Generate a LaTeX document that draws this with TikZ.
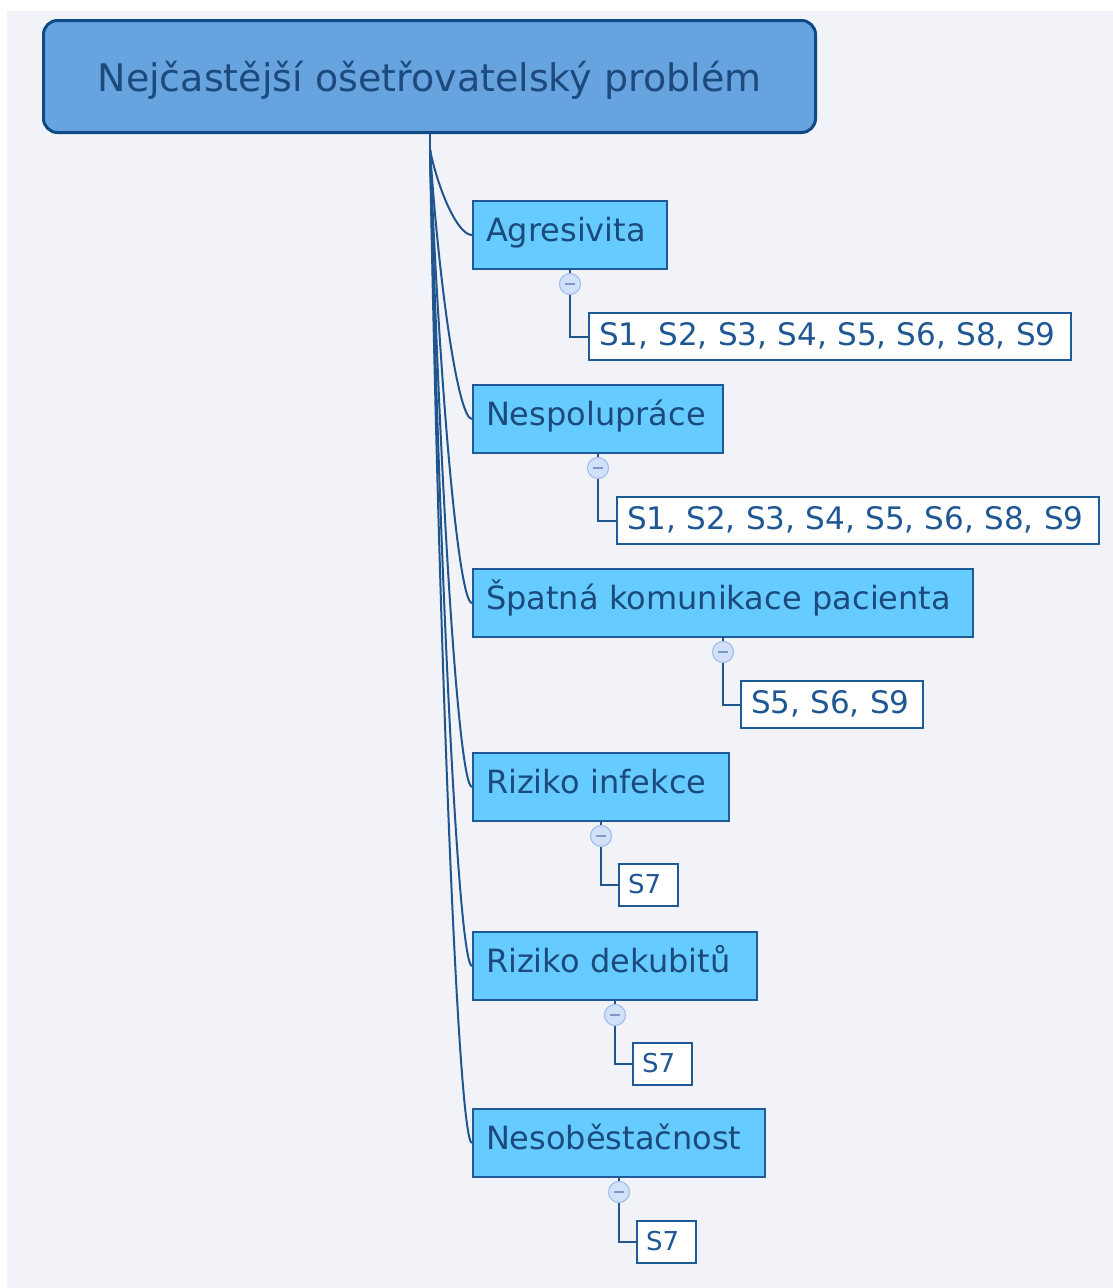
\documentclass[tikz,border=0pt]{standalone}
\usepackage{fontspec}
\setmainfont{DejaVu Sans}
\usetikzlibrary{calc}
\definecolor{bg}{HTML}{F2F3F8}
\definecolor{rootfill}{HTML}{67A3DF}
\definecolor{rootline}{HTML}{0E4A86}
\definecolor{navytext}{HTML}{1C4A7C}
\definecolor{childfill}{HTML}{66CCFF}
\definecolor{childline}{HTML}{1F5A96}
\definecolor{leaftext}{HTML}{1E5793}
\definecolor{wire}{HTML}{20558D}
\definecolor{knobfill}{HTML}{D2E1FA}
\definecolor{knobline}{HTML}{A6C0EC}
\definecolor{knobmark}{HTML}{8299C4}
\begin{document}
\begin{tikzpicture}[x=1pt,y=-1pt,
  rootbox/.style={draw=rootline, line width=3pt, fill=rootfill, rounded corners=14pt,
    anchor=north west, inner xsep=0pt, inner ysep=0pt, minimum width=772pt,
    text height=71pt, text depth=41pt, text=navytext,
    font=\fontsize{38}{44}\selectfont},
  childbox/.style={draw=childline, line width=2pt, fill=childfill, anchor=north west,
    inner xsep=13pt, inner ysep=0pt, text height=40pt, text depth=28pt,
    text=navytext, align=left, font=\fontsize{32}{38}\selectfont},
  leafbox/.style={draw=childline, line width=2pt, fill=white, anchor=north west,
    inner xsep=10pt, inner ysep=0pt, text height=32pt, text depth=15pt,
    text=leaftext, align=left, font=\fontsize{31}{36}\selectfont},
  smallleaf/.style={leafbox, inner xsep=9pt, text height=29pt, text depth=13pt,
    font=\fontsize{26}{30}\selectfont},
  knob/.style={circle, minimum size=21pt, inner sep=0pt, fill=knobfill, draw=knobline, line width=1.2pt},
  wireline/.style={draw=wire, line width=2pt},
  minusmark/.style={draw=knobmark, line width=1.5pt}
]
\useasboundingbox (0,0) rectangle (1113,1288);
\fill[white] (0,0) rectangle (1113,1288);
\fill[bg] (7,11) rectangle (1113,1288);

% root
\node[rootbox] (root) at (42,19) {Nejčastější ošetřovatelský problém};

% children
\node[childbox, text width=168pt] (c1) at (472,200) {Agresivita};
\node[childbox, text width=224pt] (c2) at (472,384) {Nespolupráce};
\node[childbox, text width=474pt] (c3) at (472,568) {Špatná komunikace pacienta};
\node[childbox, text width=230pt] (c4) at (472,752) {Riziko infekce};
\node[childbox, text width=258pt] (c5) at (472,931) {Riziko dekubitů};
\node[childbox, text width=266pt] (c6) at (472,1108) {Nesoběstačnost};

% leaves
\node[leafbox, text width=462pt] (l1) at (588,312) {S1, S2, S3, S4, S5, S6, S8, S9};
\node[leafbox, text width=462pt] (l2) at (616,496) {S1, S2, S3, S4, S5, S6, S8, S9};
\node[leafbox, text width=162pt] (l3) at (740,680) {S5, S6, S9};
\node[smallleaf, text width=41pt] (l4) at (618,863) {S7};
\node[smallleaf, text width=41pt] (l5) at (632,1042) {S7};
\node[smallleaf, text width=41pt] (l6) at (636,1220) {S7};

% fan connectors
\coordinate (fan) at (430,150);
\draw[wireline] (root.south -| fan) -- (fan);
\foreach \c in {c1,c2,c3,c4,c5,c6}{
  \draw[wireline] (fan) .. controls ($(fan)!0.5!(fan |- \c.west)+(9,0)$) and ($(\c.west)+(-14,0)$) .. (\c.west);
}

% knobs and leaf connectors
\foreach \i in {1,...,6}{
  \draw[wireline] (c\i.south) -- ($(c\i.south)+(0,14)$) |- (l\i.west);
  \node[knob] (k\i) at ($(c\i.south)+(0,14)$) {};
  \draw[minusmark] ($(k\i)+(-5,0)$) -- ($(k\i)+(5,0)$);
}
\end{tikzpicture}
\end{document}
